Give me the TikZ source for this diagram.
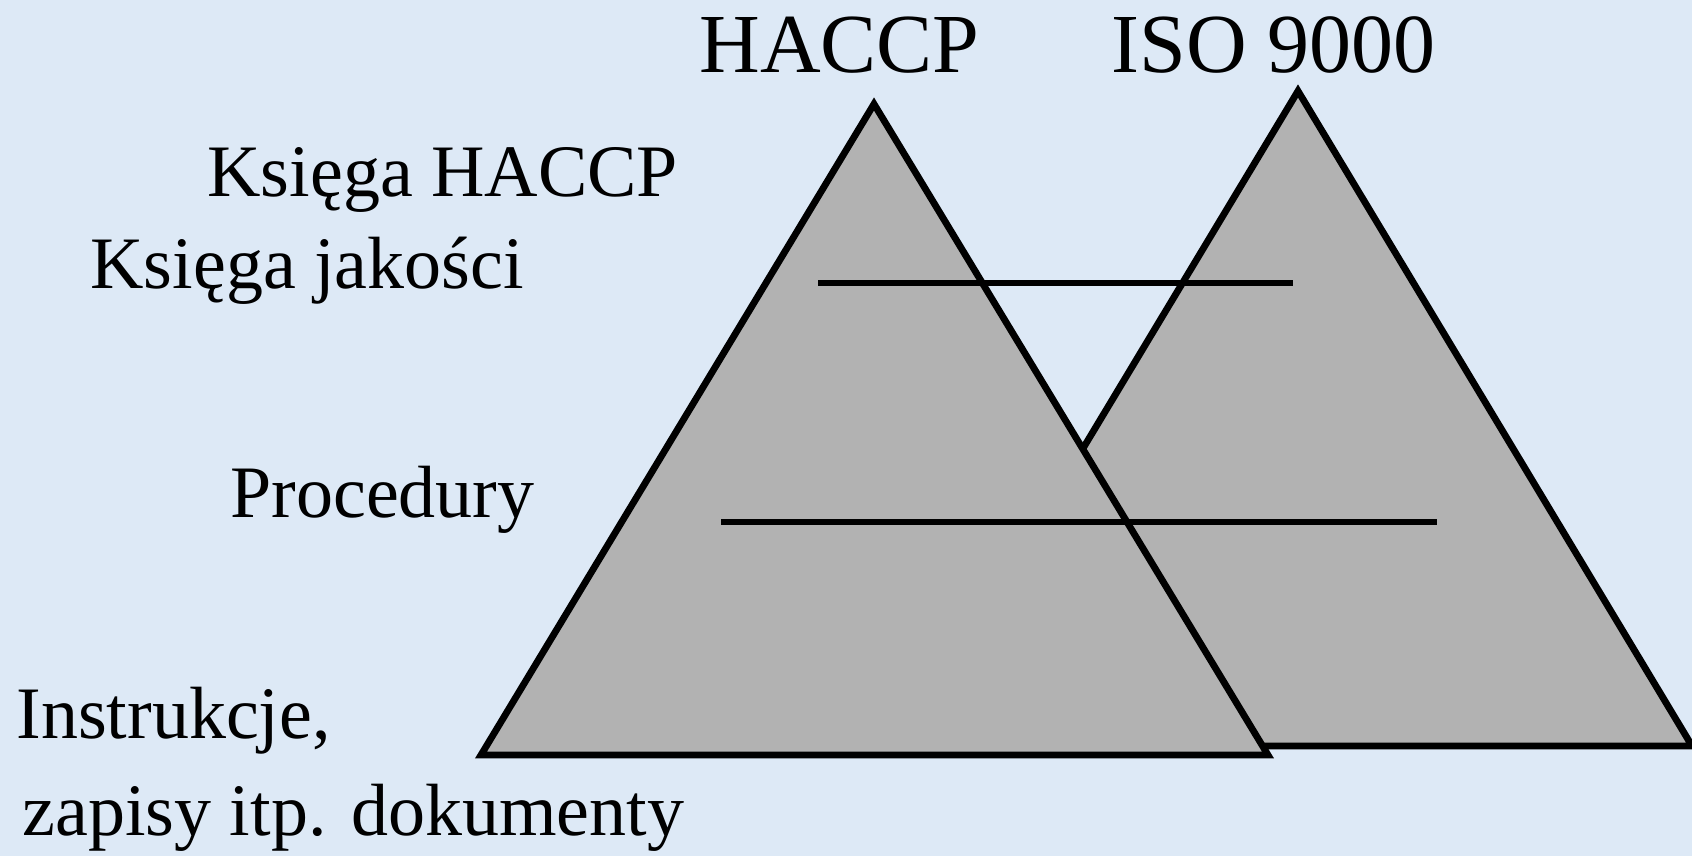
\documentclass[tikz,border=0pt]{standalone}
\usepackage{fontspec}
\setmainfont{Liberation Serif}

\definecolor{paper}{RGB}{221,233,246}
\definecolor{pyrgray}{RGB}{178,178,178}

\tikzset{
  title/.style={anchor=base west, inner sep=0pt, font=\fontsize{42}{50}\selectfont},
  level/.style={anchor=base west, inner sep=0pt, font=\fontsize{37}{44}\selectfont},
  pyramid/.style={draw=black, fill=pyrgray, line width=3.4pt, line join=miter},
  divider/.style={draw=black, line width=2.8pt}
}

\begin{document}
\begin{tikzpicture}[x=0.5pt,y=0.5pt]
    % Background
    \fill[paper] (0,0) rectangle (1692,856);
    \useasboundingbox (0,0) rectangle (1692,856);

    % ISO 9000 pyramid (behind)
    \coordinate (isotop) at (1298,765);
    \coordinate (isoleft) at (904,110);
    \coordinate (isoright) at (1692,110);
    \draw[pyramid] (isoleft) -- (isotop) -- (isoright) -- cycle;

    % HACCP pyramid (in front)
    \coordinate (hacctop) at (874,752);
    \coordinate (haccleft) at (481,101);
    \coordinate (haccright) at (1268,101);
    \draw[pyramid] (haccleft) -- (hacctop) -- (haccright) -- cycle;

    % Level dividers
    \coordinate (upperA) at (818,573);
    \coordinate (upperB) at (1293,573);
    \coordinate (lowerA) at (721,334);
    \coordinate (lowerB) at (1437,334);
    \draw[divider] (upperA) -- (upperB);
    \draw[divider] (lowerA) -- (lowerB);

    % Titles
    \node[title] (haccp) at (699,783) {HACCP};
    \node[title] (iso) at (1111,783) {ISO 9000};

    % Level labels
    \node[level] (ksiegahaccp) at (207,659) {Księga HACCP};
    \node[level] (ksiegajakosci) at (90,567) {Księga jakości};
    \node[level] (procedury) at (230,338) {Procedury};
    \node[level] (instrukcje) at (16,117) {Instrukcje,};
    \node[level] (zapisy) at (22,20) {zapisy itp. dokumenty};
\end{tikzpicture}
\end{document}
